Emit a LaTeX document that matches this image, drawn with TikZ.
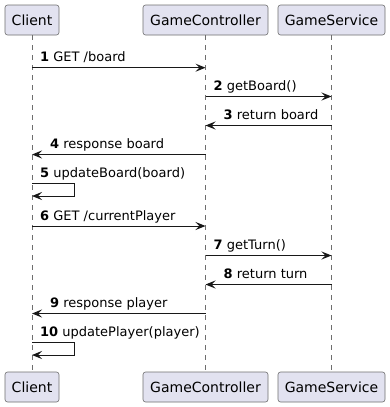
\documentclass[tikz,border=0pt]{standalone}
\usepackage{fontspec}
\setmainfont{DejaVu Sans}
\usetikzlibrary{arrows.meta,positioning,calc}
\definecolor{seqFill}{HTML}{E2E2F0}
\definecolor{seqLine}{HTML}{181818}
\definecolor{seqEdge}{HTML}{6E6E6E}
\tikzset{
  participant/.style={
    draw=seqEdge, fill=seqFill, rounded corners=2.5pt, line width=0.6pt,
    minimum height=30pt, inner sep=0pt, font=\fontsize{14}{16}\selectfont,
    text height=10.5pt, text depth=0pt
  },
  lifeline/.style={draw=seqEdge, line width=0.6pt, dash pattern=on 5pt off 5pt},
  msg/.style={-{Stealth[length=10pt, width=8pt, inset=4pt]}, draw=seqLine, line width=1pt},
  msglabel/.style={font=\fontsize{13}{15}\selectfont, inner sep=0pt, anchor=base west}
}

\begin{document}
\begin{tikzpicture}[x=1pt, y=-1pt]
  \useasboundingbox (0,0) rectangle (390,407);

  % participants, top and bottom
  \node[participant, minimum width=54pt] (clientT) at (32,20) {Client};
  \node[participant, minimum width=125pt] (ctrlT) at (205.5,20) {GameController};
  \node[participant, minimum width=107pt] (servT) at (331.5,20) {GameService};
  \node[participant, minimum width=54pt] (clientB) at (32,387) {Client};
  \node[participant, minimum width=125pt] (ctrlB) at (205.5,387) {GameController};
  \node[participant, minimum width=107pt] (servB) at (331.5,387) {GameService};

  % lifelines
  \draw[lifeline] (clientT) -- (clientB);
  \draw[lifeline] (ctrlT) -- (ctrlB);
  \draw[lifeline] (servT) -- (servB);

  % message rows
  \coordinate (m1) at (0,67.7);
  \coordinate (m2) at (0,96.5);
  \coordinate (m3) at (0,125.5);
  \coordinate (m4) at (0,154.5);
  \coordinate (m5) at (0,183);
  \coordinate (m5b) at (0,196);
  \coordinate (m6) at (0,226);
  \coordinate (m7) at (0,255.5);
  \coordinate (m8) at (0,284.5);
  \coordinate (m9) at (0,313.5);
  \coordinate (m10) at (0,342);
  \coordinate (m10b) at (0,355);

  % messages
  \draw[msg] (clientT |- m1) -- (ctrlT |- m1);
  \node[msglabel] (l1) at ([shift={(8,-6)}]clientT |- m1) {\textbf{1} GET /board};

  \draw[msg] (ctrlT |- m2) -- (servT |- m2);
  \node[msglabel] (l2) at ([shift={(8,-6)}]ctrlT |- m2) {\textbf{2} getBoard()};

  \draw[msg] (servT |- m3) -- (ctrlT |- m3);
  \node[msglabel] (l3) at ([shift={(18,-6)}]ctrlT |- m3) {\textbf{3} return board};

  \draw[msg] (ctrlT |- m4) -- (clientT |- m4);
  \node[msglabel] (l4) at ([shift={(18,-6)}]clientT |- m4) {\textbf{4} response board};

  \draw[msg] (clientT |- m5) -| ([xshift=42]clientT |- m5b) -- (clientT |- m5b);
  \node[msglabel] (l5) at ([shift={(8,-6)}]clientT |- m5) {\textbf{5} updateBoard(board)};

  \draw[msg] (clientT |- m6) -- (ctrlT |- m6);
  \node[msglabel] (l6) at ([shift={(8,-6)}]clientT |- m6) {\textbf{6} GET /currentPlayer};

  \draw[msg] (ctrlT |- m7) -- (servT |- m7);
  \node[msglabel] (l7) at ([shift={(8,-6)}]ctrlT |- m7) {\textbf{7} getTurn()};

  \draw[msg] (servT |- m8) -- (ctrlT |- m8);
  \node[msglabel] (l8) at ([shift={(18,-6)}]ctrlT |- m8) {\textbf{8} return turn};

  \draw[msg] (ctrlT |- m9) -- (clientT |- m9);
  \node[msglabel] (l9) at ([shift={(18,-6)}]clientT |- m9) {\textbf{9} response player};

  \draw[msg] (clientT |- m10) -| ([xshift=42]clientT |- m10b) -- (clientT |- m10b);
  \node[msglabel] (l10) at ([shift={(8,-6)}]clientT |- m10) {\textbf{10} updatePlayer(player)};
\end{tikzpicture}
\end{document}
